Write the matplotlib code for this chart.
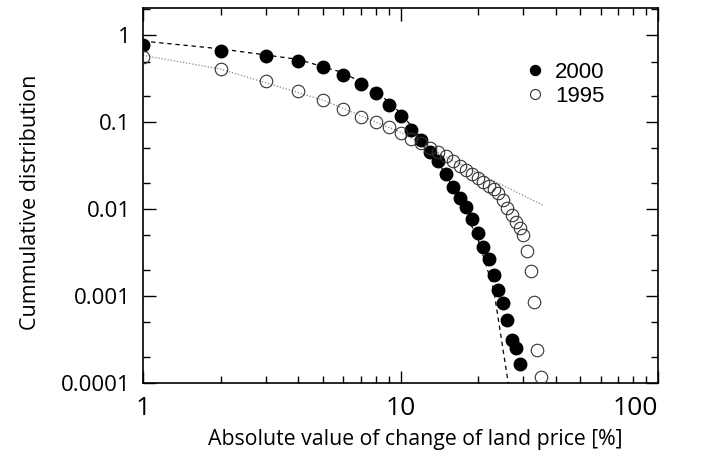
import matplotlib
matplotlib.use("Agg")
import matplotlib.pyplot as plt
from matplotlib.ticker import LogLocator, NullFormatter, FixedLocator, FixedFormatter

# --- data ---
x2000 = list(range(1, 30))
y2000 = [0.767, 0.66, 0.578, 0.506, 0.436, 0.349, 0.277, 0.220, 0.160, 0.117,
         0.082, 0.062, 0.046, 0.0356, 0.0256, 0.018, 0.0135, 0.0106, 0.0078, 0.0053,
         0.00363, 0.00267, 0.00173, 0.00116, 0.00083, 0.00053, 0.000313, 0.000251, 0.000166]

x1995 = list(range(1, 36))
y1995 = [0.568, 0.406, 0.295, 0.228, 0.179, 0.143, 0.116, 0.101, 0.0887, 0.0756,
         0.0644, 0.058, 0.0507, 0.0452, 0.0406, 0.0356, 0.0311, 0.028, 0.0256, 0.0229,
         0.0204, 0.0183, 0.0171, 0.0154, 0.0129, 0.0103, 0.00865, 0.00705, 0.00607, 0.00508,
         0.00327, 0.00197, 0.00085, 0.00024, 0.000118]

# fitted curves
fit2000_x = [1, 2, 4, 6, 8, 10, 13, 16, 20, 23, 26.2]
fit2000_y = [0.86, 0.70, 0.53, 0.372, 0.234, 0.128, 0.05, 0.018, 0.0045, 0.0012, 0.0001]
fit1995_x = [1, 2, 5, 10, 15, 20, 36]
fit1995_y = [0.59, 0.41, 0.18, 0.077, 0.040, 0.026, 0.011]

xticks = [1, 10, 100]
xticklabels = ["1", "10", "100"]
yticks = [0.0001, 0.001, 0.01, 0.1, 1]
yticklabels = ["0.0001", "0.001", "0.01", "0.1", "1"]

narrow = ["DejaVu Sans Condensed", "Liberation Sans Narrow", "Liberation Sans", "DejaVu Sans"]
labfont = ["Open Sans", "DejaVu Sans"]

fig = plt.figure(figsize=(7.01, 4.61), dpi=100)
ax = fig.add_axes([143/701, 78/461, (658-143)/701, (383-8.3)/461])

ax.set_xscale("log")
ax.set_yscale("log")
ax.set_xlim(1, 100)
ax.set_ylim(1e-4, 2.05)

ax.plot(fit2000_x, fit2000_y, color="black", lw=0.9, ls=(0, (3.5, 3)), zorder=2)
ax.plot(fit1995_x, fit1995_y, color="#888888", lw=0.9, ls=(0, (1, 1.5)), zorder=2)

ax.plot(x2000, y2000, "o", color="black", ms=9, mec="black", zorder=3, label="2000")
ax.plot(x1995, y1995, "o", mfc="none", mec="#333333", ms=9, mew=0.8, zorder=3, label="1995")

ax.xaxis.set_major_locator(FixedLocator(xticks))
ax.xaxis.set_major_formatter(FixedFormatter(xticklabels))
ax.xaxis.set_minor_locator(LogLocator(base=10, subs=range(2, 10)))
ax.xaxis.set_minor_formatter(NullFormatter())
ax.yaxis.set_major_locator(FixedLocator(yticks))
ax.yaxis.set_major_formatter(FixedFormatter(yticklabels))
ax.yaxis.set_minor_locator(LogLocator(base=10, subs=(2, 5)))
ax.yaxis.set_minor_formatter(NullFormatter())

ax.tick_params(which="both", direction="in", top=True, right=True, width=1)
ax.tick_params(which="major", length=9)
ax.tick_params(axis="x", which="major", pad=9)
ax.tick_params(axis="y", which="major", pad=9)
ax.tick_params(which="minor", length=5)
fig.canvas.draw()
for lab in ax.get_xticklabels():
    lab.set_family(labfont)
    lab.set_fontsize(19)
for lab in ax.get_yticklabels():
    lab.set_family(labfont)
    lab.set_fontsize(16)
ax.get_xticklabels()[-1].set_horizontalalignment("right")
for s in ax.spines.values():
    s.set_linewidth(1.2)

ax.set_xlabel("Absolute value of change of land price [%]", family=labfont, fontsize=15.3)
ax.xaxis.set_label_coords((415 - 143) / 515, (383 - 429) / 374.7)
ax.set_ylabel("Cummulative distribution", family=labfont, fontsize=15.5)
ax.yaxis.set_label_coords((41 - 143) / 515, (383 - 202) / 374.7)

leg = ax.legend(loc="upper right", bbox_to_anchor=(0.935, 0.91), frameon=False,
                prop={"family": narrow, "size": 16}, handlelength=0.8, handletextpad=0.5,
                labelspacing=0.12, markerscale=0.8)

fig.savefig("out.png", dpi=100)
